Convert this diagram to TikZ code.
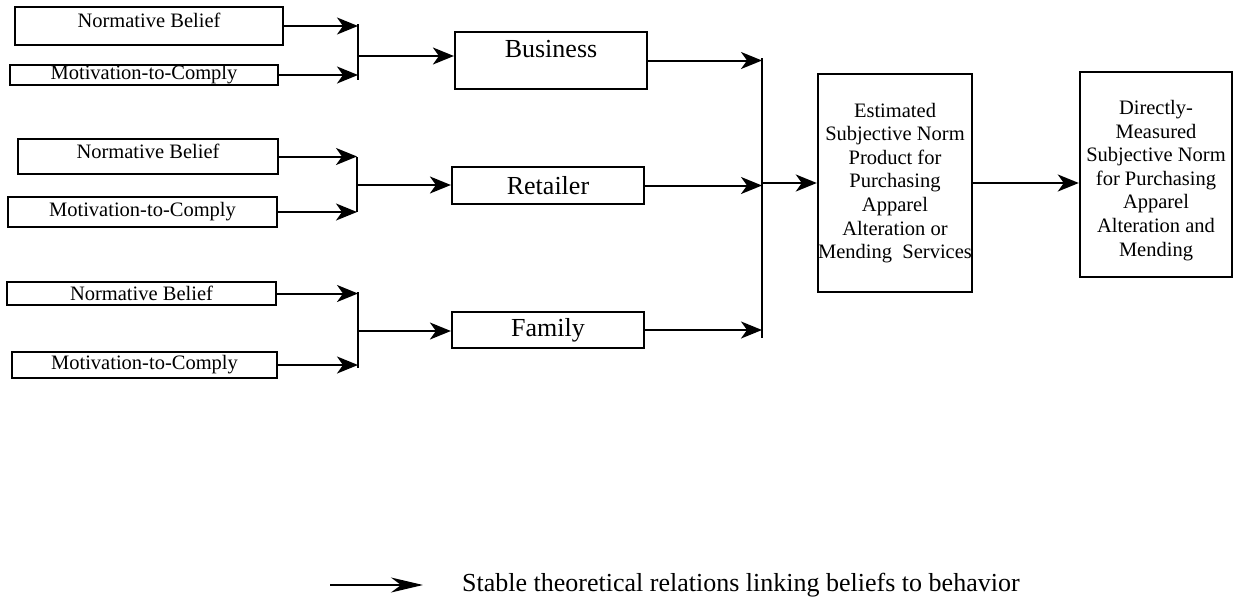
\documentclass[tikz,border=0pt]{standalone}
\usepackage{fontspec}
\setmainfont{Liberation Serif}
\usetikzlibrary{arrows.meta}

\tikzset{
  srcbox/.style={draw, line width=2.2pt, inner sep=0pt, font=\fontsize{20.5}{23.6}\selectfont},
  refbox/.style={draw, line width=2.2pt, inner sep=0pt, font=\fontsize{26}{30}\selectfont},
  normbox/.style={draw, line width=2.4pt, inner sep=0pt, align=center, font=\fontsize{20.5}{23.6}\selectfont},
  link/.style={line width=2pt, -{Stealth[length=21pt,width=17pt,inset=6pt]}},
  joinbar/.style={line width=2pt},
}

\begin{document}
\begin{tikzpicture}[x=1pt,y=-1pt]
\useasboundingbox (0,0) rectangle (1234,608);
\node [srcbox, minimum width=268pt, text height=20pt, text depth=18pt] (nbA) at (149,26) {Normative Belief};
\node [srcbox, minimum width=268pt, minimum height=20pt] (mcA) at (144,75) {Motivation-to-Comply};
\node [srcbox, minimum width=260pt, text height=19pt, text depth=16pt] (nbB) at (148,156.5) {Normative Belief};
\node [srcbox, minimum width=269pt, minimum height=30pt] (mcB) at (142.5,212) {Motivation-to-Comply};
\node [srcbox, minimum width=269pt, minimum height=23pt] (nbC) at (141.5,293.5) {Normative Belief};
\node [srcbox, minimum width=265pt, minimum height=26pt] (mcC) at (144.5,365) {Motivation-to-Comply};
\node [refbox, minimum width=192pt, text height=25pt, text depth=32pt] (business) at (551,60.5) {Business};
\node [refbox, minimum width=192pt, minimum height=37pt] (retailer) at (548,185.5) {Retailer};
\node [refbox, minimum width=192pt, minimum height=36pt] (family) at (548,330) {Family};
\node [normbox, minimum width=154pt, minimum height=218pt] (estimated) at (895,183) {Estimated\\Subjective Norm\\Product for\\Purchasing\\Apparel\\Alteration or\\Mending\ \ Services};
\node [normbox, minimum width=152pt, minimum height=205pt] (directly) at (1156,174.5) {\rule{0pt}{26pt}Directly-\\Measured\\Subjective Norm\\for Purchasing\\Apparel\\Alteration and\\Mending};
\coordinate (barA1) at (358,24);
\coordinate (barA2) at (358,80);
\coordinate (barAm) at (358,56);
\coordinate (barB1) at (357,157);
\coordinate (barB2) at (357,212);
\coordinate (barBm) at (357,185);
\coordinate (barC1) at (358,292);
\coordinate (barC2) at (358,368);
\coordinate (barCm) at (358,331);
\coordinate (bigbar1) at (762,58);
\coordinate (bigbar2) at (762,338);
\coordinate (bigbarm) at (762,183);
\draw [joinbar] (barA1) -- (barA2);
\draw [joinbar] (barB1) -- (barB2);
\draw [joinbar] (barC1) -- (barC2);
\draw [joinbar] (bigbar1) -- (bigbar2);
\draw [link] (nbA.east) -- (nbA.east -| barA1);
\draw [link] (mcA.east) -- (mcA.east -| barA1);
\draw [link] (nbB.east) -- (nbB.east -| barB1);
\draw [link] (mcB.east) -- (mcB.east -| barB1);
\draw [link] (nbC.east) -- (nbC.east -| barC1);
\draw [link] (mcC.east) -- (mcC.east -| barC1);
\draw [link] (barAm) -- (barAm -| business.west);
\draw [link] (barBm) -- (barBm -| retailer.west);
\draw [link] (barCm) -- (barCm -| family.west);
\draw [link] (business.east) -- (business.east -| bigbar1);
\draw [link] (retailer.east) -- (retailer.east -| bigbar1);
\draw [link] (family.east) -- (family.east -| bigbar1);
\draw [link] (bigbarm) -- (bigbarm -| estimated.west);
\draw [link] (estimated.east) -- (estimated.east -| directly.west);
% legend
\coordinate (legA) at (330,585);
\coordinate (legB) at (423,585);
\draw [line width=1.6pt, -{Stealth[length=32pt,width=15pt,inset=10pt]}] (legA) -- (legB);
\node [anchor=west, inner sep=0pt, font=\fontsize{26}{30}\selectfont] (legtext) at (462,585) {Stable theoretical relations linking beliefs to behavior};
\end{tikzpicture}
\end{document}
